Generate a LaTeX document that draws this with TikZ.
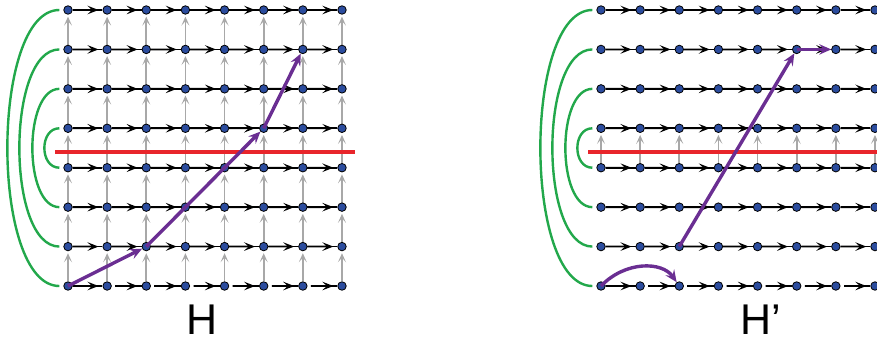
\documentclass[tikz,border=0pt]{standalone}
\usepackage{fontspec}
\setmainfont{Liberation Sans}
\usetikzlibrary{arrows.meta,calc}
\definecolor{nodeblue}{HTML}{2B4C9E}
\definecolor{gridgray}{HTML}{A8A8A8}
\definecolor{redline}{HTML}{E8252B}
\definecolor{greenarc}{HTML}{22A84B}
\definecolor{purp}{HTML}{6A2E92}
\pgfdeclarelayer{bg}
\pgfsetlayers{bg,main}
\begin{document}
\begin{tikzpicture}[x=1pt,y=-1pt,
 vtx/.style={circle,fill=nodeblue,draw=black,line width=0.8pt,inner sep=0pt,minimum size=8.5pt},
 hline/.style={black,line width=1.8pt},
 hhead/.style={-{Stealth[length=11pt,width=8.5pt,inset=4.5pt]},black,line width=1.8pt},
 vedge/.style={gridgray,line width=1.8pt,-{Stealth[length=9pt,width=8pt,inset=4.5pt]},shorten >=2pt},
 redsep/.style={redline,line width=3.8pt},
 greenloop/.style={greenarc,line width=2.4pt},
 purparrow/.style={purp,line width=3.4pt,-{Stealth[length=12pt,width=10.5pt,inset=4.5pt]}},
 lab/.style={font=\fontsize{43}{45}\selectfont,inner sep=0pt}
]
\useasboundingbox (0,0) rectangle (877,339);

% vertices
\foreach \j in {0,...,7}{
  \foreach \i in {0,...,7}{
    \node[vtx] (L-\i-\j) at ({68+39.14*\i},{10+39.43*\j}) {};
    \node[vtx] (R-\i-\j) at ({601+39.14*\i},{10+39.43*\j}) {};
  }
}

\begin{pgfonlayer}{bg}
% gray vertical edges, left grid (all), right grid (across cut only)
\foreach \i in {0,...,7}{
  \foreach \j [evaluate=\j as \m using int(\j-1)] in {1,...,7}{
    \draw[vedge] (L-\i-\j) -- (L-\i-\m);
  }
  \draw[vedge] (R-\i-4) -- (R-\i-3);
}
% black horizontal edges
\foreach \j in {0,...,6}{
  \foreach \i [evaluate=\i as \k using int(\i+1)] in {0,...,6}{
    \draw[hline] (L-\i-\j) -- (L-\k-\j);
    \draw[hhead] (L-\i-\j) -- ($(L-\i-\j.center)!0.78!(L-\k-\j.center)$);
    \draw[hline] (R-\i-\j) -- (R-\k-\j);
    \draw[hhead] (R-\i-\j) -- ($(R-\i-\j.center)!0.78!(R-\k-\j.center)$);
  }
  \draw[hline] (R-7-\j) -- ++(10,0);
}
\draw[hline] (L-0-7) -- (L-1-7);
\draw[hhead] (L-0-7) -- ($(L-0-7.center)!0.78!(L-1-7.center)$);
\draw[hline] (R-0-7) -- (R-1-7);
\draw[hhead] (R-0-7) -- ($(R-0-7.center)!0.78!(R-1-7.center)$);
\foreach \i [evaluate=\i as \k using int(\i+1)] in {1,...,6}{
  \draw[hline,shorten <=3.5pt] (L-\i-7) -- (L-\k-7);
  \draw[hhead,shorten <=3.5pt] (L-\i-7) -- ($(L-\i-7.center)!0.78!(L-\k-7.center)$);
  \draw[hline,shorten <=3.5pt] (R-\i-7) -- (R-\k-7);
  \draw[hhead,shorten <=3.5pt] (R-\i-7) -- ($(R-\i-7.center)!0.78!(R-\k-7.center)$);
}
\end{pgfonlayer}

% red cut lines
\coordinate (redL1) at (55,152);
\coordinate (redL2) at (355,152);
\coordinate (redR1) at (588,152);
\coordinate (redR2) at (880,152);
\draw[redsep] (redL1) -- (redL2);
\draw[redsep] (redR1) -- (redR2);

% green loops
\foreach \top/\bot/\w in {0/7/52,1/6/40,2/5/27,3/4/15}{
  \draw[greenloop] ([xshift=-4pt]L-0-\top.west) .. controls +({-4/3*\w},0) and +({-4/3*\w},0) .. ([xshift=-4pt]L-0-\bot.west);
  \draw[greenloop] ([xshift=-4pt]R-0-\top.west) .. controls +({-4/3*\w},0) and +({-4/3*\w},0) .. ([xshift=-4pt]R-0-\bot.west);
}

% purple paths
\draw[purparrow] (L-0-7.center) -- (L-2-6);
\draw[purparrow] (L-2-6.center) -- (L-5-3);
\draw[purparrow] (L-5-3.center) -- (L-6-1);

\draw[purparrow] (R-0-7.center) .. controls (625,261) and (662,261) .. (R-2-7);
\draw[purparrow] (R-2-6.center) -- (R-5-1);
\draw[purparrow] (R-5-1.center) -- (R-6-1);

% labels
\node[lab,anchor=base west] (labH) at (186,334) {H};
\node[lab,anchor=base west] (labHp) at (740,334) {H’};
\end{tikzpicture}
\end{document}
